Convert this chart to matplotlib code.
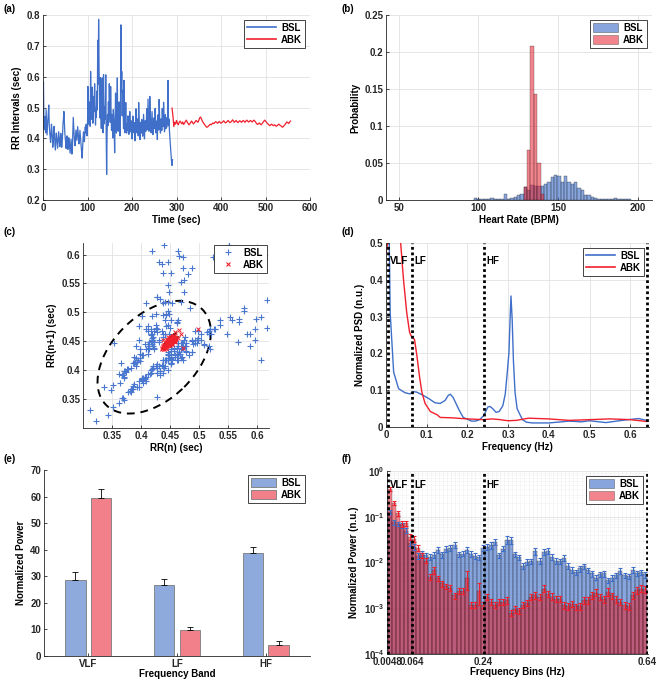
import numpy as np
import matplotlib

matplotlib.use('Agg')
import matplotlib.pyplot as plt
from matplotlib.patches import Ellipse, Patch
from matplotlib.lines import Line2D
from matplotlib.ticker import FuncFormatter, MultipleLocator, LogLocator, NullFormatter

# ---------------- data ----------------
# (a) RR intervals (ms), BSL sampled every 1 s from t=0, ABK every 2 s from t=290
bsl_t0, bsl_dt = 0, 1
bsl_rr_ms = [
    436, 583, 462, 428, 471, 447, 418, 493, 452, 411,
    437, 462, 484, 508, 446, 421, 403, 387, 412, 446,
    428, 396, 371, 388, 423, 439, 404, 377, 362, 394,
    417, 401, 383, 368, 392, 421, 407, 386, 373, 398,
    416, 393, 371, 386, 413, 448, 463, 487, 451, 419,
    402, 384, 367, 392, 408, 381, 364, 377, 402, 386,
    368, 352, 374, 397, 371, 349, 366, 412, 468, 436,
    409, 388, 376, 402, 427, 411, 393, 414, 438, 417,
    396, 382, 403, 426, 407, 384, 367, 352, 336, 371,
    398, 421, 407, 389, 414, 437, 418, 446, 431, 408,
    437, 568, 489, 446, 518, 472, 439, 617, 521, 462,
    481, 566, 449, 473, 536, 487, 577, 508, 443, 497,
    468, 553, 492, 718, 576, 786, 628, 513, 466, 597,
    488, 432, 523, 596, 472, 418, 607, 492, 447, 503,
    463, 606, 418, 283, 412, 476, 441, 518, 472, 577,
    503, 452, 568, 483, 426, 478, 447, 401, 493, 467,
    428, 353, 447, 547, 463, 417, 472, 596, 452, 423,
    468, 518, 437, 408, 472, 768, 551, 617, 473, 556,
    487, 431, 588, 462, 418, 453, 516, 442, 417, 448,
    426, 473, 452, 413, 441, 487, 452, 421, 457, 433,
    398, 428, 472, 447, 418, 451, 433, 392, 442, 496,
    447, 418, 463, 441, 408, 516, 462, 427, 396, 452,
    443, 417, 461, 438, 407, 446, 478, 433, 398, 437,
    458, 423, 437, 496, 452, 428, 527, 471, 423, 448,
    536, 478, 441, 418, 452, 487, 451, 412, 428, 466,
    431, 448, 497, 453, 418, 456, 437, 396, 476, 458,
    427, 526, 471, 438, 417, 463, 447, 426, 497, 456,
    438, 517, 468, 421, 442, 477, 431, 452, 436, 468,
    447, 588, 441, 463, 428, 404, 383, 362, 343, 322,
    312, 331,
]
abk_t0, abk_dt = 290, 2
abk_rr_ms = [
    498, 472, 438, 452, 446, 458, 449, 444, 452, 456,
    451, 447, 453, 445, 449, 455, 459, 453, 448, 444,
    447, 452, 456, 451, 447, 450, 454, 458, 455, 452,
    458, 466, 469, 463, 456, 451, 447, 443, 439, 436,
    437, 440, 443, 446, 444, 447, 450, 448, 451, 454,
    452, 449, 451, 455, 452, 449, 451, 454, 457, 453,
    450, 452, 455, 458, 454, 451, 453, 456, 460, 456,
    452, 455, 458, 454, 451, 454, 457, 455, 452, 455,
    458, 455, 452, 456, 459, 456, 453, 455, 458, 456,
    453, 456, 459, 456, 452, 448, 445, 447, 450, 447,
    444, 447, 451, 455, 459, 456, 452, 449, 446, 443,
    441, 444, 446, 443, 441, 444, 442, 439, 441, 444,
    446, 443, 441, 439, 436, 438, 442, 445, 449, 453,
    451, 448, 452, 456,
]

# (b) heart-rate histogram (probability), common bins
hr_edge0, hr_binw = 97.0, 2.1
bsl_hr_prob = [0.003, 0.001, 0.001, 0.001, 0.002, 0.003, 0.002, 0.001, 0.002, 0.008,
               0.002, 0.003, 0.004, 0.007, 0.008, 0.018, 0.014, 0.020, 0.019, 0.019,
               0.019, 0.022, 0.025, 0.031, 0.034, 0.032, 0.025, 0.033, 0.025, 0.021,
               0.024, 0.016, 0.013, 0.007, 0.007, 0.004, 0.003, 0.002, 0.001, 0.002,
               0.001, 0.001, 0.003, 0.002, 0.001, 0.001, 0.001]
abk_hr_first_bin = 15
abk_hr_prob = [0.018, 0.068, 0.208, 0.143, 0.050, 0.008]

# (c) SD ellipses (center, semi-axis along identity line, semi-axis across)
bsl_ell = (0.4225, 0.117, 0.073)
abk_ell = (0.452, 0.018, 0.005)

# (d) normalized PSD
bsl_psd_f = [0.004, 0.008, 0.0103, 0.0188, 0.031, 0.047, 0.059, 0.067, 0.075, 0.088,
             0.104, 0.120, 0.133, 0.145, 0.153, 0.158, 0.165, 0.177, 0.185, 0.19,
             0.20, 0.21, 0.22, 0.23, 0.24, 0.25, 0.255, 0.262, 0.27, 0.278,
             0.287, 0.293, 0.298, 0.302, 0.305, 0.307, 0.310, 0.313, 0.317, 0.322,
             0.328, 0.335, 0.345, 0.36, 0.40, 0.45, 0.48, 0.50, 0.54, 0.58,
             0.62, 0.64]
bsl_psd = [0.95, 0.50, 0.31, 0.149, 0.104, 0.093, 0.090, 0.096, 0.095, 0.088,
           0.078, 0.066, 0.064, 0.072, 0.086, 0.089, 0.080, 0.052, 0.035, 0.026,
           0.021, 0.016, 0.016, 0.020, 0.031, 0.054, 0.056, 0.050, 0.040, 0.042,
           0.058, 0.090, 0.150, 0.202, 0.300, 0.356, 0.290, 0.180, 0.094, 0.050,
           0.036, 0.020, 0.013, 0.011, 0.011, 0.016, 0.014, 0.017, 0.012, 0.018,
           0.023, 0.018]
abk_psd_f = [0.0, 0.004, 0.01, 0.03, 0.036, 0.043, 0.051, 0.058, 0.063, 0.070,
             0.076, 0.082, 0.088, 0.096, 0.109, 0.126, 0.133, 0.16, 0.20, 0.24,
             0.26, 0.28, 0.30, 0.32, 0.35, 0.40, 0.45, 0.50, 0.55, 0.60, 0.64]
abk_psd = [0.471, 0.50, 0.9, 0.9, 0.50, 0.40, 0.31, 0.257, 0.245, 0.238,
           0.193, 0.140, 0.095, 0.064, 0.042, 0.033, 0.026, 0.025, 0.022, 0.020,
           0.022, 0.020, 0.017, 0.018, 0.024, 0.022, 0.018, 0.020, 0.022, 0.020, 0.015]
band_edges = [0.0048, 0.064, 0.24, 0.64]
band_names = ['VLF', 'LF', 'HF']

# (e) normalized band power (mean, error)
bands = ['VLF', 'LF', 'HF']
bsl_power = [28.7, 26.6, 38.7]
bsl_power_err = [2.9, 2.5, 2.4]
abk_power = [59.6, 9.7, 4.3]
abk_power_err = [3.4, 1.3, 1.5]

# (f) power per frequency bin (n.u.), relative errors
bsl_bin_pow = [0.13, 0.075, 0.070, 0.065, 0.050, 0.027, 0.022, 0.014, 0.016, 0.0145,
               0.0132, 0.0144, 0.019, 0.0151, 0.020, 0.021, 0.024, 0.0151, 0.0157, 0.019,
               0.0157, 0.0139, 0.0129, 0.021, 0.022, 0.024, 0.028, 0.0144, 0.020, 0.0317,
               0.0306, 0.0151, 0.0132, 0.0083, 0.0103, 0.0108, 0.0178, 0.011, 0.017, 0.0178,
               0.0132, 0.011, 0.0108, 0.0128, 0.0083, 0.0070, 0.0062, 0.0074, 0.0083, 0.0068,
               0.0058, 0.0047, 0.0056, 0.0058, 0.0041, 0.0047, 0.0053, 0.0066, 0.0053, 0.0050,
               0.0068, 0.0058, 0.0062, 0.0055]
abk_bin_pow = [0.41, 0.20, 0.12, 0.070, 0.073, 0.036, 0.033, 0.021, 0.0145, 0.011,
               0.0048, 0.0068, 0.0045, 0.0035, 0.0030, 0.0028, 0.0019, 0.0024, 0.0024, 0.0045,
               0.0012, 0.0012, 0.0024, 0.0012, 0.0018, 0.0014, 0.0012, 0.0014, 0.0014, 0.0015,
               0.0008, 0.00095, 0.0009, 0.0012, 0.0013, 0.0018, 0.0019, 0.0018, 0.0027, 0.0021,
               0.0018, 0.0016, 0.0016, 0.00117, 0.0011, 0.00126, 0.0011, 0.0011, 0.0015, 0.0015,
               0.0019, 0.0022, 0.0018, 0.0016, 0.0023, 0.0019, 0.0016, 0.0014, 0.00117, 0.0011,
               0.0019, 0.0025, 0.0027, 0.0026]
bsl_bin_err = [0.10, 0.12, 0.12, 0.14, 0.12, 0.15, 0.14, 0.15, 0.14, 0.13,
               0.14, 0.15, 0.13, 0.15, 0.14, 0.13, 0.15, 0.14, 0.13, 0.14,
               0.15, 0.14, 0.13, 0.14, 0.15, 0.16, 0.15, 0.14, 0.13, 0.18,
               0.17, 0.14, 0.13, 0.15, 0.14, 0.13, 0.16, 0.14, 0.15, 0.14,
               0.15, 0.14, 0.13, 0.14, 0.15, 0.14, 0.13, 0.15, 0.14, 0.13,
               0.15, 0.14, 0.13, 0.15, 0.14, 0.15, 0.13, 0.15, 0.14, 0.13,
               0.15, 0.14, 0.13, 0.15]
abk_bin_err = [0.10, 0.10, 0.12, 0.14, 0.12, 0.15, 0.14, 0.15, 0.14, 0.13,
               0.15, 0.16, 0.14, 0.15, 0.14, 0.13, 0.16, 0.15, 0.14, 0.45,
               0.16, 0.15, 0.50, 0.15, 0.16, 0.15, 0.14, 0.16, 0.15, 0.16,
               0.17, 0.16, 0.15, 0.16, 0.15, 0.16, 0.17, 0.16, 0.18, 0.16,
               0.17, 0.16, 0.15, 0.16, 0.17, 0.16, 0.15, 0.16, 0.17, 0.16,
               0.18, 0.17, 0.16, 0.17, 0.18, 0.16, 0.17, 0.16, 0.17, 0.16,
               0.18, 0.17, 0.18, 0.16]

# ---------------- style ----------------
FS = 7
plt.rcParams['font.family'] = ['Liberation Sans', 'DejaVu Sans']
plt.rcParams['font.weight'] = 'bold'
plt.rcParams['axes.labelweight'] = 'bold'
plt.rcParams['font.size'] = FS
plt.rcParams['mathtext.fontset'] = 'custom'
plt.rcParams['mathtext.rm'] = 'Liberation Sans:bold'
plt.rcParams['mathtext.default'] = 'rm'

AXC = '#262626'
GRID = '#DCDCDC'
BSL_LINE = '#3F6FC8'
ABK_LINE = '#F0202C'
BSL_HIST = '#3F6FC8'
ABK_HIST = '#E8202F'
BSL_BAR = '#8EAADC'
ABK_BAR = '#F2808A'

gfmt = FuncFormatter(lambda v, p: '%g' % round(v, 6))


def style_axes(ax, grid=True):
    for s in ['top', 'right']:
        ax.spines[s].set_visible(False)
    for s in ['left', 'bottom']:
        ax.spines[s].set_color(AXC)
        ax.spines[s].set_linewidth(0.6)
    ax.tick_params(direction='in', length=2.5, width=0.6, colors=AXC, labelsize=FS, pad=2)
    if grid:
        ax.grid(True, color=GRID, lw=0.5)
    ax.set_axisbelow(True)


def add_legend(ax, handles, labels, **kw):
    opts = dict(loc='upper right', fancybox=False, framealpha=1, edgecolor=AXC, fontsize=FS,
                borderpad=0.3, labelspacing=0.2, handletextpad=0.5, borderaxespad=0.5)
    opts.update(kw)
    leg = ax.legend(handles, labels, **opts)
    leg.get_frame().set_linewidth(0.6)
    return leg


fig = plt.figure(figsize=(6.57, 6.81), dpi=100)
H = 681.0
W = 657.0


def px_axes(l, t, r, b):
    return fig.add_axes([l / W, 1 - b / H, (r - l) / W, (b - t) / H])


bsl_rr = np.array(bsl_rr_ms) / 1000.0
abk_rr = np.array(abk_rr_ms) / 1000.0
bsl_t = bsl_t0 + bsl_dt * np.arange(len(bsl_rr))
abk_t = abk_t0 + abk_dt * np.arange(len(abk_rr))

# (a)
ax = px_axes(43, 15, 310, 200)
style_axes(ax)
ax.plot(bsl_t, bsl_rr, color=BSL_LINE, lw=0.9)
ax.plot(abk_t, abk_rr, color=ABK_LINE, lw=0.9)
ax.set_xlim(0, 600)
ax.set_ylim(0.2, 0.8)
ax.xaxis.set_major_locator(MultipleLocator(100))
ax.yaxis.set_major_locator(MultipleLocator(0.1))
ax.yaxis.set_major_formatter(gfmt)
ax.set_xlabel('Time (sec)', labelpad=1.5)
ax.set_ylabel('RR Intervals (sec)', labelpad=3)
add_legend(ax, [Line2D([], [], color=BSL_LINE, lw=1.2), Line2D([], [], color=ABK_LINE, lw=1.2)],
           ['BSL', 'ABK'], handlelength=3.0)

# (b)
ax = px_axes(386, 15, 652, 200)
style_axes(ax)
edges = hr_edge0 + hr_binw * np.arange(len(bsl_hr_prob) + 1)
ax.bar(edges[:-1], bsl_hr_prob, width=hr_binw, align='edge', color=BSL_HIST, alpha=0.62,
       edgecolor='#1a1a1a', lw=0.35)
abk_left = edges[abk_hr_first_bin:abk_hr_first_bin + len(abk_hr_prob)]
ax.bar(abk_left, abk_hr_prob, width=hr_binw, align='edge', color=ABK_HIST, alpha=0.55,
       edgecolor='#1a1a1a', lw=0.35)
ax.set_xlim(42, 209)
ax.set_ylim(0, 0.25)
ax.set_xticks([50, 100, 150, 200])
ax.yaxis.set_major_locator(MultipleLocator(0.05))
ax.yaxis.set_major_formatter(gfmt)
ax.set_xlabel('Heart Rate (BPM)', labelpad=1.5)
ax.set_ylabel('Probability', labelpad=3)
add_legend(ax, [Patch(facecolor=BSL_HIST, alpha=0.62, edgecolor='#1a1a1a', lw=0.4),
                Patch(facecolor=ABK_HIST, alpha=0.55, edgecolor='#1a1a1a', lw=0.4)],
           ['BSL', 'ABK'], handlelength=2.6, handleheight=1.0)

# (c) Poincare plot
ax = px_axes(83, 243, 269, 428)
style_axes(ax)
ax.plot(bsl_rr[:-1], bsl_rr[1:], '+', color='#4A78D0', ms=4.5, mew=0.8, ls='none')
ax.plot(abk_rr[:-1], abk_rr[1:], 'x', color=ABK_LINE, ms=2.6, mew=0.7, ls='none')
for (c, a, b) in [bsl_ell, abk_ell]:
    ax.add_patch(Ellipse((c, c), 2 * a, 2 * b, angle=45, fill=False, ec='k',
                         lw=1.4, ls=(0, (4, 3))))
ax.set_xlim(0.30, 0.62)
ax.set_ylim(0.30, 0.62)
ax.set_xticks(np.arange(0.35, 0.61, 0.05))
ax.set_yticks(np.arange(0.35, 0.61, 0.05))
ax.xaxis.set_major_formatter(gfmt)
ax.yaxis.set_major_formatter(gfmt)
ax.set_xlabel('RR(n) (sec)', labelpad=1.5)
ax.set_ylabel('RR(n+1) (sec)', labelpad=3)
add_legend(ax, [Line2D([], [], marker='+', color='#4A78D0', ls='none', ms=4.5, mew=0.8),
                Line2D([], [], marker='x', color=ABK_LINE, ls='none', ms=3, mew=0.8)],
           ['BSL', 'ABK'], handlelength=2.2, borderaxespad=0.2)

# (d) PSD
ax = px_axes(386, 243, 649, 427)
style_axes(ax)
ax.plot(bsl_psd_f, bsl_psd, color=BSL_LINE, lw=1.0)
ax.plot(abk_psd_f, abk_psd, color=ABK_LINE, lw=1.0)
for f in band_edges:
    ax.axvline(f, color='k', lw=2.0, ls=(0, (1, 1)))
for f, name in zip(band_edges[:-1], band_names):
    ax.text(f + 0.006, 0.45, name, va='center', ha='left', fontsize=FS)
ax.set_xlim(0, 0.646)
ax.set_ylim(0, 0.5)
ax.xaxis.set_major_locator(MultipleLocator(0.1))
ax.yaxis.set_major_locator(MultipleLocator(0.1))
ax.xaxis.set_major_formatter(gfmt)
ax.yaxis.set_major_formatter(gfmt)
ax.set_xlabel('Frequency (Hz)', labelpad=1.5)
ax.set_ylabel('Normalized PSD (n.u.)', labelpad=3)
add_legend(ax, [Line2D([], [], color=BSL_LINE, lw=1.2), Line2D([], [], color=ABK_LINE, lw=1.2)],
           ['BSL', 'ABK'], handlelength=3.0)

# (e) band power bars
ax = px_axes(44, 470, 310, 656)
style_axes(ax, grid=False)
xg = np.arange(1, len(bands) + 1)
bw, off = 0.23, 0.145
ax.bar(xg - off, bsl_power, bw, color=BSL_BAR, edgecolor='#7a7a7a', lw=0.6)
ax.bar(xg + off, abk_power, bw, color=ABK_BAR, edgecolor='#7a7a7a', lw=0.6)
zeros = [0] * len(bands)
ax.errorbar(xg - off, bsl_power, yerr=[zeros, bsl_power_err], fmt='none', ecolor='k',
            elinewidth=0.6, capsize=2, capthick=0.6)
ax.errorbar(xg + off, abk_power, yerr=[zeros, abk_power_err], fmt='none', ecolor='k',
            elinewidth=0.6, capsize=2, capthick=0.6)
ax.set_xlim(0.5, 3.5)
ax.set_ylim(0, 70)
ax.set_xticks(xg)
ax.set_xticklabels(bands)
ax.yaxis.set_major_locator(MultipleLocator(10))
ax.set_xlabel('Frequency Band', labelpad=0.5)
ax.set_ylabel('Normalized Power', labelpad=3)
add_legend(ax, [Patch(facecolor=BSL_BAR, edgecolor='#7a7a7a', lw=0.6),
                Patch(facecolor=ABK_BAR, edgecolor='#7a7a7a', lw=0.6)],
           ['BSL', 'ABK'], handlelength=2.6, handleheight=1.0)

# (f) per-bin power, log scale
ax = px_axes(387, 471, 648, 654)
style_axes(ax, grid=False)
ax.set_yscale('log')
nb = len(bsl_bin_pow)
bin_edges = np.linspace(band_edges[0], band_edges[-1], nb + 1)
centers = 0.5 * (bin_edges[:-1] + bin_edges[1:])
binw = bin_edges[1] - bin_edges[0]
ymin = 1e-4
bsl_p = np.array(bsl_bin_pow)
abk_p = np.array(abk_bin_pow)
ax.bar(centers, bsl_p - ymin, binw, bottom=ymin, color=BSL_HIST, alpha=0.62,
       edgecolor='#1a1a1a', lw=0.35)
ax.bar(centers, abk_p - ymin, binw, bottom=ymin, color=ABK_HIST, alpha=0.55,
       edgecolor='#1a1a1a', lw=0.35)
ax.errorbar(centers, bsl_p, yerr=bsl_p * np.array(bsl_bin_err), fmt='none', ecolor=BSL_LINE,
            elinewidth=0.8, capsize=1.6, capthick=0.8)
ax.errorbar(centers, abk_p, yerr=abk_p * np.array(abk_bin_err), fmt='none', ecolor=ABK_LINE,
            elinewidth=0.8, capsize=1.6, capthick=0.8)
for f in band_edges:
    ax.axvline(f, color='k', lw=2.0, ls=(0, (1, 1)), zorder=3)
for f, name in zip(band_edges[:-1], band_names):
    ax.text(f + 0.006, 0.5, name, va='center', ha='left', fontsize=FS, zorder=4)
ax.set_xlim(0.003, 0.643)
ax.set_ylim(1e-4, 1)
ax.set_xticks(band_edges)
ax.set_xticklabels(['0.0048', '0.064', '0.24', '0.64'])
ax.xaxis.set_minor_locator(MultipleLocator(0.01))
ax.yaxis.set_major_locator(LogLocator(base=10, numticks=10))
ax.yaxis.set_minor_locator(LogLocator(base=10, subs=np.arange(2, 10), numticks=20))
ax.yaxis.set_minor_formatter(NullFormatter())
ax.grid(True, which='major', axis='y', color=GRID, lw=0.5)
ax.grid(True, which='minor', color=GRID, lw=0.4, ls=(0, (1, 1.5)))
ax.tick_params(which='minor', length=0)
ax.set_xlabel('Frequency Bins (Hz)', labelpad=0.5)
ax.set_ylabel('Normalized Power (n.u.)', labelpad=3)
add_legend(ax, [Patch(facecolor=BSL_HIST, alpha=0.62, edgecolor='#1a1a1a', lw=0.4),
                Patch(facecolor=ABK_HIST, alpha=0.55, edgecolor='#1a1a1a', lw=0.4)],
           ['BSL', 'ABK'], handlelength=2.6, handleheight=1.0)

# panel letters
for lab, x, y in [('(a)', 3, 9), ('(b)', 342, 9), ('(c)', 3, 232), ('(d)', 342, 232),
                  ('(e)', 3, 459), ('(f)', 342, 459)]:
    fig.text(x / W, 1 - y / H, lab, ha='left', va='center', fontsize=FS)

fig.savefig('out.png', dpi=100)
